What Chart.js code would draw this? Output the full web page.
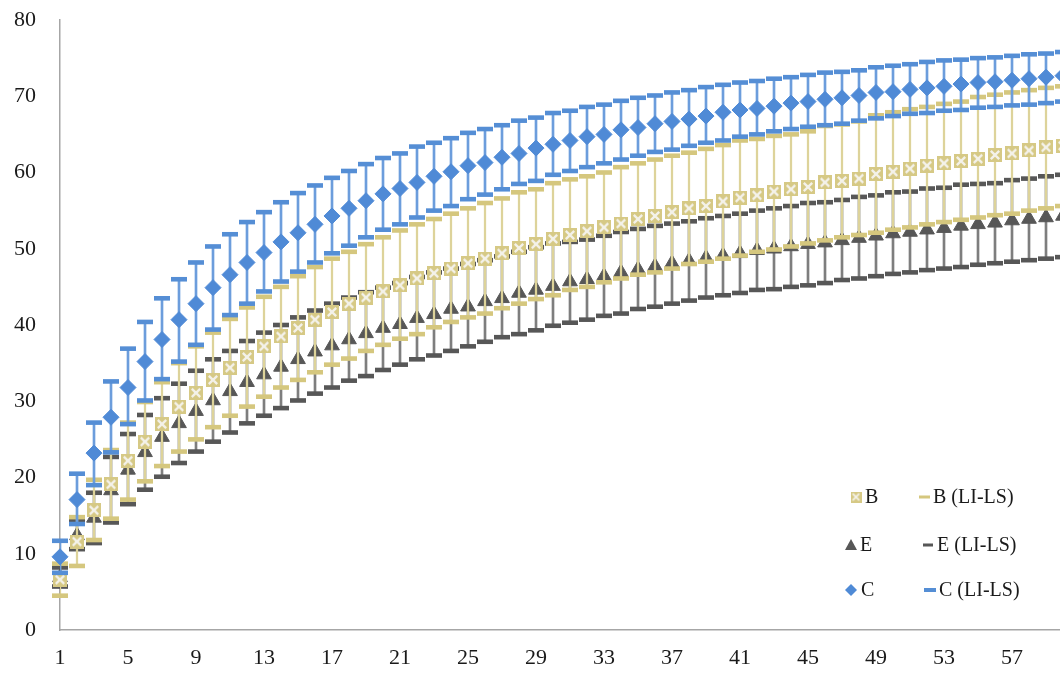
<!DOCTYPE html>
<html>
<head>
<meta charset="utf-8">
<script src="https://cdn.jsdelivr.net/npm/chart.js@4.4.1/dist/chart.umd.min.js"></script>
<style>
  html, body { margin: 0; padding: 0; background: #ffffff; overflow: hidden; width: 1060px; height: 673px; }
  #wrap { position: absolute; left: 0; top: 0; width: 1090px; height: 673px; }
</style>
</head>
<body>
<div id="wrap"><canvas id="chart" width="1090" height="673"></canvas></div>
<script>
// Sampling steps (x axis)
const categories = ['1','2','3','4','5','6','7','8','9','10','11','12','13','14','15','16','17','18','19','20',
  '21','22','23','24','25','26','27','28','29','30','31','32','33','34','35','36','37','38','39','40',
  '41','42','43','44','45','46','47','48','49','50','51','52','53','54','55','56','57','58','59','60'];
const xTickLabels = ['1','5','9','13','17','21','25','29','33','37','41','45','49','53','57'];

// Series B: mean and confidence limits (LI = lower, LS = upper)
const bMean = [6.6,11.6,15.7,19.1,22.2,24.7,27.0,29.3,31.1,32.8,34.4,35.8,37.2,38.5,39.6,40.7,41.7,42.8,43.6,44.4,
  45.2,46.1,46.8,47.4,48.1,48.7,49.4,50.1,50.6,51.3,51.8,52.3,52.8,53.3,53.9,54.3,54.8,55.3,55.6,56.2,
  56.7,57.0,57.5,57.8,58.1,58.7,58.9,59.2,59.8,60.1,60.5,60.9,61.2,61.5,61.8,62.3,62.5,62.9,63.3,63.5];
const bLI = [4.5,8.4,11.8,14.6,17.1,19.5,21.5,23.4,25.0,26.6,28.1,29.3,30.6,31.8,32.8,33.8,34.8,35.6,36.6,37.4,
  38.2,38.8,39.7,40.4,41.0,41.5,42.2,42.8,43.4,43.9,44.6,45.0,45.6,46.1,46.6,46.9,47.4,48.0,48.3,48.7,
  49.1,49.6,49.9,50.3,50.7,51.1,51.5,51.8,52.1,52.5,52.8,53.2,53.5,53.8,54.1,54.4,54.6,55.0,55.3,55.6];
const bLS = [8.7,14.8,19.7,23.6,27.2,29.9,32.5,35.0,37.2,39.0,40.8,42.3,43.7,45.0,46.4,47.6,48.7,49.6,50.6,51.5,
  52.4,53.2,53.9,54.6,55.3,56.0,56.6,57.4,57.8,58.6,59.1,59.5,60.0,60.7,61.2,61.7,62.2,62.6,63.1,63.6,
  64.2,64.4,64.8,65.0,65.4,66.1,66.3,66.7,67.5,67.9,68.3,68.6,69.0,69.3,69.9,70.2,70.5,70.8,71.1,71.3];

// Series E
const eMean = [6.9,12.4,14.7,18.3,21.0,23.3,25.3,27.1,28.7,30.1,31.3,32.5,33.5,34.5,35.5,36.5,37.3,38.1,38.9,39.6,
  40.1,40.9,41.4,42.1,42.4,43.1,43.5,44.2,44.6,45.1,45.7,46.0,46.4,46.9,47.3,47.7,48.1,48.4,48.8,49.1,
  49.4,49.8,50.0,50.3,50.6,50.8,51.1,51.4,51.7,52.0,52.2,52.5,52.7,53.0,53.2,53.4,53.7,53.9,54.1,54.3];
const eLI = [5.7,10.6,11.4,14.1,16.5,18.4,20.1,21.9,23.4,24.7,25.9,27.1,28.1,29.1,30.1,31.0,31.8,32.7,33.3,34.1,
  34.8,35.5,36.0,36.6,37.2,37.8,38.4,38.8,39.3,39.9,40.3,40.7,41.2,41.5,42.1,42.4,42.8,43.2,43.6,43.9,
  44.2,44.6,44.7,45.0,45.2,45.5,45.9,46.1,46.4,46.7,46.9,47.2,47.4,47.6,47.9,48.1,48.3,48.5,48.7,48.9];
const eLS = [8.2,14.3,18.0,22.7,25.7,28.2,30.4,32.3,34.0,35.5,36.6,37.9,39.0,40.0,41.0,41.9,42.8,43.6,44.3,44.9,
  45.5,46.3,46.9,47.4,48.0,48.5,49.0,49.6,50.2,50.7,50.9,51.2,51.7,52.2,52.6,53.0,53.3,53.6,54.0,54.3,
  54.6,55.0,55.3,55.6,56.0,56.1,56.4,56.8,57.0,57.4,57.5,57.9,58.0,58.4,58.5,58.6,59.0,59.2,59.5,59.7];

// Series C
const cMean = [9.6,17.1,23.2,27.9,31.8,35.2,38.1,40.7,42.8,44.9,46.6,48.2,49.5,50.9,52.1,53.2,54.3,55.3,56.3,57.2,
  57.9,58.7,59.5,60.1,60.9,61.3,62.0,62.5,63.2,63.7,64.2,64.7,65.0,65.6,65.9,66.4,66.7,67.0,67.4,67.9,
  68.2,68.4,68.7,69.1,69.3,69.6,69.8,70.1,70.5,70.6,70.9,71.1,71.3,71.6,71.8,71.9,72.1,72.3,72.5,72.7];
const cLI = [7.5,13.9,19.0,23.3,27.0,30.1,32.9,35.2,37.4,39.4,41.3,42.8,44.4,45.7,47.0,48.2,49.4,50.4,51.5,52.5,
  53.2,54.1,55.0,55.6,56.5,57.1,57.8,58.5,58.9,59.7,60.2,60.7,61.2,61.7,62.2,62.7,63.0,63.5,63.9,64.2,
  64.7,65.0,65.4,65.7,66.0,66.2,66.4,66.8,67.1,67.4,67.7,67.8,68.1,68.2,68.5,68.6,68.8,68.9,69.1,69.3];
const cLS = [11.7,20.5,27.2,32.6,36.9,40.4,43.5,46.0,48.2,50.3,51.9,53.5,54.8,56.1,57.3,58.3,59.3,60.2,61.1,61.9,
  62.5,63.4,63.9,64.5,65.2,65.7,66.2,66.8,67.2,67.8,68.1,68.6,68.9,69.4,69.8,70.1,70.5,70.8,71.2,71.5,
  71.8,72.0,72.3,72.5,72.8,73.1,73.2,73.4,73.8,74.0,74.2,74.5,74.7,74.8,75.0,75.1,75.3,75.5,75.6,75.8];

const yTicks = { min: 0, max: 80, step: 10 };

// Palette
const COLORS = {
  B: { mark: '#D6C985', cap: '#D5C77E', whisker: '#DDD39A', cross: '#F4F2EA' },
  E: { mark: '#575757', cap: '#575757', whisker: '#7E7E7E' },
  C: { mark: '#4F8AD6', cap: '#558ED5', whisker: '#6C9DDC' }
};
const FONT = '"Liberation Serif", "Times New Roman", serif';

// Square-with-cross marker used for series B
function crossSquare(size) {
  const cv = document.createElement('canvas');
  cv.width = size; cv.height = size;
  const g = cv.getContext('2d');
  g.fillStyle = COLORS.B.mark;
  g.fillRect(0, 0, size, size);
  g.strokeStyle = COLORS.B.cross;
  g.lineWidth = size * 0.17;
  const m = size * 0.2;
  g.beginPath();
  g.moveTo(m, m); g.lineTo(size - m, size - m);
  g.moveTo(size - m, m); g.lineTo(m, size - m);
  g.stroke();
  return cv;
}
const squareMarker = crossSquare(14);
const squareMarkerSmall = crossSquare(11);

const toRange = (lo, hi) => lo.map((v, i) => [v, hi[i]]);

function markerSet(label, data, style, radius, color, order) {
  return {
    type: 'line', label, data, order,
    showLine: false, clip: false,
    pointStyle: style, pointRadius: radius, pointHoverRadius: radius,
    pointBackgroundColor: color, pointBorderColor: color, pointBorderWidth: 1
  };
}
function capSet(label, data, color, order) {
  return {
    type: 'line', label, data, order,
    showLine: false, clip: false,
    pointStyle: 'line', pointRadius: 8, pointHoverRadius: 8,
    pointBorderColor: color, pointBorderWidth: 4.6
  };
}
function whiskerSet(label, lo, hi, color, width, order) {
  return {
    type: 'bar', label, data: toRange(lo, hi), order,
    grouped: false, barThickness: width, backgroundColor: color, borderWidth: 0
  };
}

const datasets = [
  // C on top
  markerSet('C', cMean, 'rectRot', 8, COLORS.C.mark, 0),
  capSet('C (LI-LS)', cLS, COLORS.C.cap, 1),
  capSet('C LI', cLI, COLORS.C.cap, 1),
  whiskerSet('C range', cLI, cLS, COLORS.C.whisker, 2, 2),
  // B
  markerSet('B', bMean, squareMarker, 7, COLORS.B.mark, 3),
  capSet('B (LI-LS)', bLS, COLORS.B.cap, 4),
  capSet('B LI', bLI, COLORS.B.cap, 4),
  whiskerSet('B range', bLI, bLS, COLORS.B.whisker, 1.6, 5),
  // E underneath
  markerSet('E', eMean, 'triangle', 8.5, COLORS.E.mark, 6),
  capSet('E (LI-LS)', eLS, COLORS.E.cap, 7),
  capSet('E LI', eLI, COLORS.E.cap, 7),
  whiskerSet('E range', eLI, eLS, COLORS.E.whisker, 2, 8)
];

// Two-column legend drawn in the lower right of the plot
const legendRows = [
  { key: 'B', y: 497, mx: 856, tx: 865, d0: 919, d1: 930, t2: 933, dh: 3 },
  { key: 'E', y: 545, mx: 851, tx: 860, d0: 923, d1: 933, t2: 937, dh: 3 },
  { key: 'C', y: 590, mx: 851, tx: 861, d0: 924, d1: 936, t2: 939, dh: 4 }
];
const legendPlugin = {
  id: 'seriesLegend',
  afterDraw(chart) {
    const ctx = chart.ctx;
    ctx.save();
    ctx.font = '20px ' + FONT;
    ctx.textBaseline = 'middle';
    ctx.textAlign = 'left';
    legendRows.forEach(r => {
      const col = COLORS[r.key];
      const x = r.mx, y = r.y;
      ctx.fillStyle = col.mark;
      ctx.beginPath();
      if (r.key === 'B') {
        ctx.drawImage(squareMarkerSmall, x - 5.5, y - 5.5, 11, 11);
      } else if (r.key === 'E') {
        ctx.moveTo(x, y - 6); ctx.lineTo(x + 6, y + 5); ctx.lineTo(x - 6, y + 5); ctx.closePath(); ctx.fill();
      } else {
        ctx.moveTo(x, y - 6); ctx.lineTo(x + 6, y); ctx.lineTo(x, y + 6); ctx.lineTo(x - 6, y); ctx.closePath(); ctx.fill();
      }
      ctx.fillStyle = '#1a1a1a';
      ctx.fillText(r.key, r.tx, y + 1);
      ctx.fillStyle = col.cap;
      ctx.fillRect(r.d0, y - r.dh / 2, r.d1 - r.d0, r.dh);
      ctx.fillStyle = '#1a1a1a';
      ctx.fillText(r.key + ' (LI-LS)', r.t2, y + 1);
    });
    ctx.restore();
  }
};

Chart.defaults.font.family = FONT;
Chart.defaults.color = '#1a1a1a';

new Chart(document.getElementById('chart'), {
  type: 'line',
  data: { labels: categories, datasets },
  options: {
    responsive: false,
    animation: false,
    devicePixelRatio: 1,
    layout: { padding: { top: 20, right: 27, bottom: 0, left: 0 } },
    plugins: { legend: { display: false }, tooltip: { enabled: false } },
    scales: {
      x: {
        type: 'category',
        offset: false,
        grid: { display: false, drawTicks: false },
        border: { display: true, color: '#A6A6A6', width: 1.5 },
        ticks: {
          autoSkip: false, maxRotation: 0, minRotation: 0, padding: 15,
          font: { size: 22, family: FONT }, color: '#1a1a1a',
          callback: (v, i) => xTickLabels.includes(categories[i]) ? categories[i] : ''
        },
        afterFit: s => { s.height = 43; }
      },
      y: {
        min: yTicks.min, max: yTicks.max,
        grid: { display: false, drawTicks: false },
        border: { display: true, color: '#A6A6A6', width: 1.5 },
        ticks: { stepSize: yTicks.step, padding: 24, font: { size: 22, family: FONT }, color: '#1a1a1a' },
        afterFit: s => { s.width = 60; s.paddingTop = 0; s.paddingBottom = 0; }
      }
    }
  },
  plugins: [legendPlugin]
});
</script>
</body>
</html>
